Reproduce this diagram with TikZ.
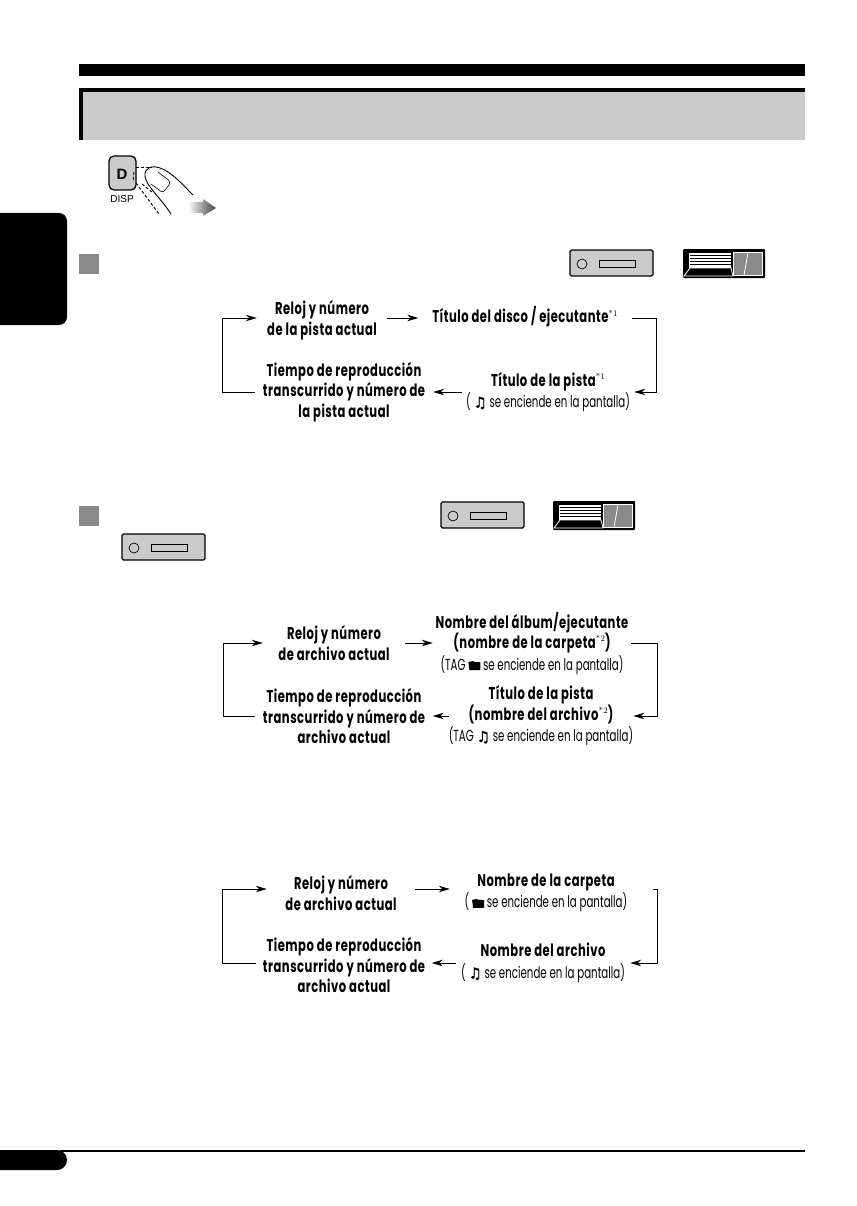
\documentclass[tikz,border=0pt]{standalone}
\usepackage{fontspec}
\usetikzlibrary{arrows.meta,positioning,shapes.geometric}
\newfontfamily\headfont[FakeStretch=0.68,LetterSpace=3]{Poppins Bold}
\newfontfamily\notefont[FakeStretch=0.64]{Poppins}
\newfontfamily\symfont[FakeBold=2]{DejaVu Sans}
\newfontfamily\keyfont{Liberation Sans}
\definecolor{panelgray}{HTML}{CBCBCB}
\definecolor{squaregray}{HTML}{8A8A8A}
\newcommand{\notaic}{{\symfont\fontsize{15}{15}\selectfont ♫}}
\newcommand{\carpetaic}{\tikz[baseline=0pt,x=1pt,y=1pt]{\fill (0,0) -- (-1,8) -- (4,9) -- (5,8) -- (11,8) -- (11,0) -- cycle;}}
\newcommand{\sufijo}[1]{\raisebox{.4em}{\normalfont\fontsize{8.5}{8.5}\selectfont *\kern.5pt #1}}
\newcommand{\lnota}[1]{{\notefont\fontsize{16}{19}\selectfont #1}}
\tikzset{
  every picture/.style={x=1pt,y=-1pt},
  paso/.style={align=center,inner sep=0pt,font=\headfont\fontsize{17}{20.5}\selectfont,minimum height=20pt},
  enlace/.style={line width=1pt,-{Stealth[length=11pt,width=6.5pt,inset=3.5pt]}},
  faceunit/.pic={
    \draw[line width=1.3pt,fill=panelgray,rounded corners=1.5pt] (0,0) rectangle (83,26);
    \draw[line width=.7pt] (12,14) circle[radius=5];
    \draw[line width=.7pt] (29,10) rectangle (65,17);
  },
  slideunit/.pic={
    \fill[rounded corners=1pt] (0,0) rectangle (82,29);
    \fill[white] (6,4) rectangle (48,19);
    \foreach \k in {6,9,12,15} \fill (7,\k) rectangle (48,\k+1.2);
    \draw[white,line width=.8pt] (1,27) -- (7,19) -- (48,19) -- (50,27) -- cycle;
    \fill[white] (50,3) rectangle (80,27);
    \fill[squaregray] (51,4) rectangle (79,26);
    \draw[white,line width=.8pt] (65,4) -- (61,26);
  }
}
\begin{document}
\begin{tikzpicture}
  \useasboundingbox (0,0) rectangle (856,1206);

  % page furniture
  \fill (79,64) rectangle (805,76);
  \fill[panelgray] (79,88) rectangle (805,140);
  \fill (79,88) rectangle (805,92);
  \fill (79,88) rectangle (83,140);
  \fill[rounded corners=8pt] (-12,213) rectangle (67,325);
  \fill[rounded corners=10pt] (-12,1150) rectangle (67,1170);
  \fill (60,1150) rectangle (805,1152);
  \fill[squaregray] (79,254) rectangle (99,274);
  \fill[squaregray] (79,506) rectangle (99,526);

  % finger on the key
  \draw[line width=1.3pt,fill=panelgray,rounded corners=5pt] (109,156) rectangle (136,190);
  \node[inner sep=0pt,font=\keyfont\bfseries\fontsize{15}{15}\selectfont] (teclad) at (122,174) {D};
  \node[inner sep=0pt,font=\keyfont\fontsize{10}{10}\selectfont] (teclalab) at (122,199) {DISP};
  \draw[line width=.9pt] (171,214) .. controls (160,197) and (146,186) .. (145,176) .. controls (144,168) and (152,165) .. (160,168) .. controls (172,172) and (184,186) .. (193,195);
  \draw[line width=.6pt,rounded corners=3pt] (158,172) -- (171,182) -- (163,193) -- (151,184);
  \draw[line width=.9pt,densely dashed] (136,167) -- (152,167);
  \draw[line width=.9pt,densely dashed] (134,172) -- (133,182);
  \draw[line width=.9pt,densely dashed] (136,183) -- (159,214);
  \draw[line width=.9pt,densely dashed] (142,184) -- (152,192);
  \shade[left color=white,right color=black!75] (188,202) -- (203,202) -- (203,199) -- (216,208) -- (203,216) -- (203,213) -- (188,213) -- cycle;

  % units
  \pic at (570,250) {faceunit};
  \pic at (683,249) {slideunit};
  \pic at (441,502) {faceunit};
  \pic at (553,501) {slideunit};
  \pic at (122,534) {faceunit};

  % first loop
  \node[paso,minimum width=130pt] (relojuno) at (322,320) {Reloj y número\\de la pista actual};
  \node[paso,minimum width=213pt] (discouno) at (525,317) {Título del disco / ejecutante\sufijo{1}};
  \node[paso,minimum width=172pt] (pistauno) at (548,392) {Título de la pista\sufijo{1}\\[1pt]\lnota{( \notaic\ se enciende en la pantalla)}};
  \node[paso,minimum width=178pt] (tiempouno) at (344,392) {Tiempo de reproducción\\transcurrido y número de\\la pista actual};
  \draw[enlace] ([yshift=2]relojuno.east) -- ([yshift=-1]discouno.west);
  \draw[enlace] ([yshift=-1]discouno.east) -- ++(25,0) |- (pistauno.east);
  \draw[enlace] (pistauno.west) -- (tiempouno.east);
  \draw[enlace] (tiempouno.west) -- ++(-32,0) |- ([yshift=2]relojuno.west);

  % second loop
  \node[paso,minimum width=142pt] (relojdos) at (334,643) {Reloj y número\\de archivo actual};
  \node[paso,minimum width=198pt] (albumdos) at (532,643) {Nombre del  álbum/ejecutante\\(nombre de la carpeta\sufijo{2})\\[1pt]\lnota{(TAG \carpetaic\ se enciende en la pantalla)}};
  \node[paso,minimum width=174pt] (pistados) at (541,716) {Título de la pista\\(nombre del archivo\sufijo{2})\\[1pt]\lnota{(TAG \notaic\ se enciende en la pantalla)}};
  \node[paso,minimum width=177pt] (tiempodos) at (344,716) {Tiempo de reproducción\\transcurrido y número de\\archivo actual};
  \draw[enlace] (relojdos.east) -- (albumdos.west);
  \draw[enlace] (albumdos.east) -- ++(26,0) |- (pistados.east);
  \draw[enlace] (pistados.west) -- (tiempodos.east);
  \draw[enlace] (tiempodos.west) -- ++(-32,0) |- (relojdos.west);

  % third loop
  \node[paso,minimum width=148pt] (relojtres) at (341,893) {Reloj y número\\de archivo actual};
  \node[paso,minimum width=192pt] (carpetatres) at (546,893) {Nombre de la carpeta\\[1pt]\lnota{( \carpetaic\ se enciende en la pantalla)}};
  \node[paso,minimum width=174pt] (archivotres) at (543,963) {Nombre del archivo\\[1pt]\lnota{( \notaic\ se enciende en la pantalla)}};
  \node[paso,minimum width=175pt] (tiempotres) at (344,965) {Tiempo de reproducción\\transcurrido y número de\\archivo actual};
  \draw[enlace] ([yshift=4]relojtres.east) -- ([yshift=4]carpetatres.west);
  \draw[enlace,shorten <=11pt] ([yshift=4]carpetatres.east) -- ++(15,0) |- (archivotres.east);
  \draw[enlace] (archivotres.west) -- ([yshift=2]tiempotres.east);
  \draw[enlace] ([yshift=2]tiempotres.west) -- ++(-34,0) |- ([yshift=4]relojtres.west);
\end{tikzpicture}
\end{document}
